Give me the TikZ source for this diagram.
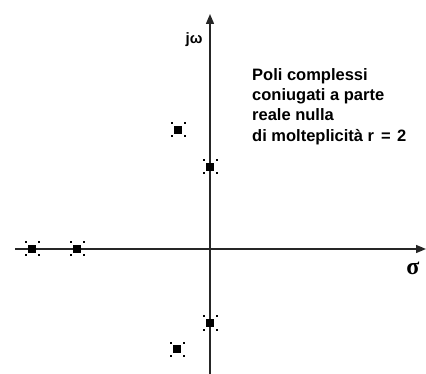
\documentclass[tikz,border=0pt]{standalone}
\usepackage{fontspec}
\setmainfont{Liberation Sans}
\newfontfamily\serifb{Liberation Serif}
\usetikzlibrary{arrows.meta}
\begin{document}
\begin{tikzpicture}[x=1pt,y=-1pt,
  axisline/.style={line width=1.4pt,draw=black!85,-{Triangle[length=10pt,width=8pt]}},
  lbl/.style={font=\bfseries\fontsize{15}{20}\selectfont, inner sep=0pt}
]
\useasboundingbox (0,0) rectangle (426,374);
\fill[white] (0,0) rectangle (426,374);
\coordinate (hl) at (15,249);
\coordinate (hr) at (426,249);
\coordinate (vb) at (210,374);
\coordinate (vt) at (210,14);
\draw[axisline] (hl) -- (hr);
\draw[axisline] (vb) -- (vt);
\newcommand{\polemark}[2]{%
  \fill[black] (#1-4,#2-4) rectangle (#1+4,#2+4);
  \foreach \dx/\dy in {-1/-1,1/-1,-1/1,1/1}{
    \fill[black] (#1+\dx*6.5-1,#2+\dy*6.5-1) rectangle (#1+\dx*6.5+1,#2+\dy*6.5+1);
  }%
}
\polemark{32}{249}
\polemark{77}{249}
\polemark{178}{130}
\polemark{210}{167}
\polemark{210}{323}
\polemark{177}{349}
\node[lbl] (jw) at (194,40) {jω};
\node[inner sep=0pt,font=\serifb\bfseries\fontsize{24}{24}\selectfont] (sg) at (413,268) {σ};
\node[lbl,font=\bfseries\fontsize{16.5}{20.4}\selectfont,anchor=north west,align=left] (txt) at (252,68)
{Poli complessi\\coniugati a parte\\reale nulla\\di molteplicità r\hspace{0.15em} = \hspace{0.1em}2};
\end{tikzpicture}
\end{document}
